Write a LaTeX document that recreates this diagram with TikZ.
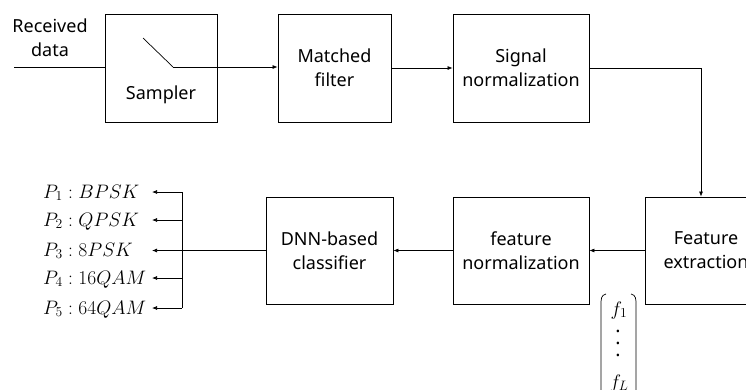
\documentclass[tikz,border=0pt]{standalone}
\usepackage{fix-cm}
\usepackage{fontspec}
\setmainfont{Noto Sans}
\usetikzlibrary{arrows.meta}
\begin{document}
\begin{tikzpicture}[x=1pt,y=-1pt,
  txt/.style={font=\fontsize{18}{24}\selectfont, inner sep=0pt, align=center},
  mth/.style={font=\fontsize{19.5}{24}\selectfont, inner sep=0pt},
  blk/.style={txt, draw, line width=0.8pt},
  wire/.style={line width=0.7pt},
  flow/.style={wire, -{Latex[length=5pt,width=4pt]}},
]
\useasboundingbox (0,0) rectangle (746,389);
\clip (0,0) rectangle (746,389);

% processing blocks
\node[blk, minimum width=112pt, minimum height=108pt] (sampler) at (161,68) {};
\node[txt] (smplabel) at (161,95) {Sampler};
\node[blk, minimum width=113pt, minimum height=108pt] (matched) at (334.5,68) {Matched\\filter};
\node[blk, minimum width=136pt, minimum height=108pt] (signorm) at (521,68) {Signal\\normalization};
\node[blk, minimum width=122pt, minimum height=107pt] (featext) at (706,250.5) {Feature\\extraction};
\node[blk, minimum width=136pt, minimum height=107pt] (featnorm) at (521,250.5) {feature\\normalization};
\node[blk, minimum width=127pt, minimum height=107pt] (dnn) at (329.5,250.5) {DNN-based\\classifier};

% input and sampling switch
\node[txt] (rx) at (50,38) {Received\\data};
\coordinate (in) at (14,67);
\coordinate (sw1) at (143,38);
\coordinate (sw2) at (173,67);
\draw[wire] (in) -- (in -| sampler.west);
\draw[wire] (sw1) -- (sw2);
\draw[flow] (sw2) -- (sw2 -| matched.west);

% signal chain
\draw[flow] (matched.east) -- (signorm.west);
\draw[flow] (signorm.east) -| ([xshift=-5pt]featext.north);
\draw[flow] (featext.west) -- (featnorm.east);
\draw[flow] (featnorm.west) -- (dnn.east);

% class probability outputs
\coordinate (br) at (182,250.5);
\draw[wire] (dnn.west) -- (br);
\foreach \i/\y in {1/192,2/220,3/250.5,4/278,5/308}{
  \coordinate (b\i) at (182,\y);
  \coordinate (t\i) at (152,\y);
}
\draw[wire] (b1) -- (b5);
\foreach \i in {1,...,5}{ \draw[flow] (b\i) -- (t\i); }
\node[mth, anchor=base west] (p1) at (43,198) {$P_1 : BPSK$};
\node[mth, anchor=base west] (p2) at (43,226) {$P_2 : QPSK$};
\node[mth, anchor=base west] (p3) at (43,256) {$P_3 : 8PSK$};
\node[mth, anchor=base west] (p4) at (43,284) {$P_4 : 16QAM$};
\node[mth, anchor=base west] (p5) at (43,314) {$P_5 : 64QAM$};

% feature vector
\draw[wire] (606,294) .. controls (601,295) and (601,299) .. (601,305) -- (601,395);
\draw[wire] (631,294) .. controls (636,295) and (636,299) .. (636,305) -- (636,395);
\node[mth, anchor=base] (f1) at (619,315) {$f_1$};
\node[mth] (fdots) at (618,343) {$\vcenter{\baselineskip=12pt\lineskiplimit=0pt\hbox{.}\hbox{.}\hbox{.}}$};
\node[mth, anchor=base] (fL) at (619,388) {$f_L$};
\end{tikzpicture}
\end{document}
